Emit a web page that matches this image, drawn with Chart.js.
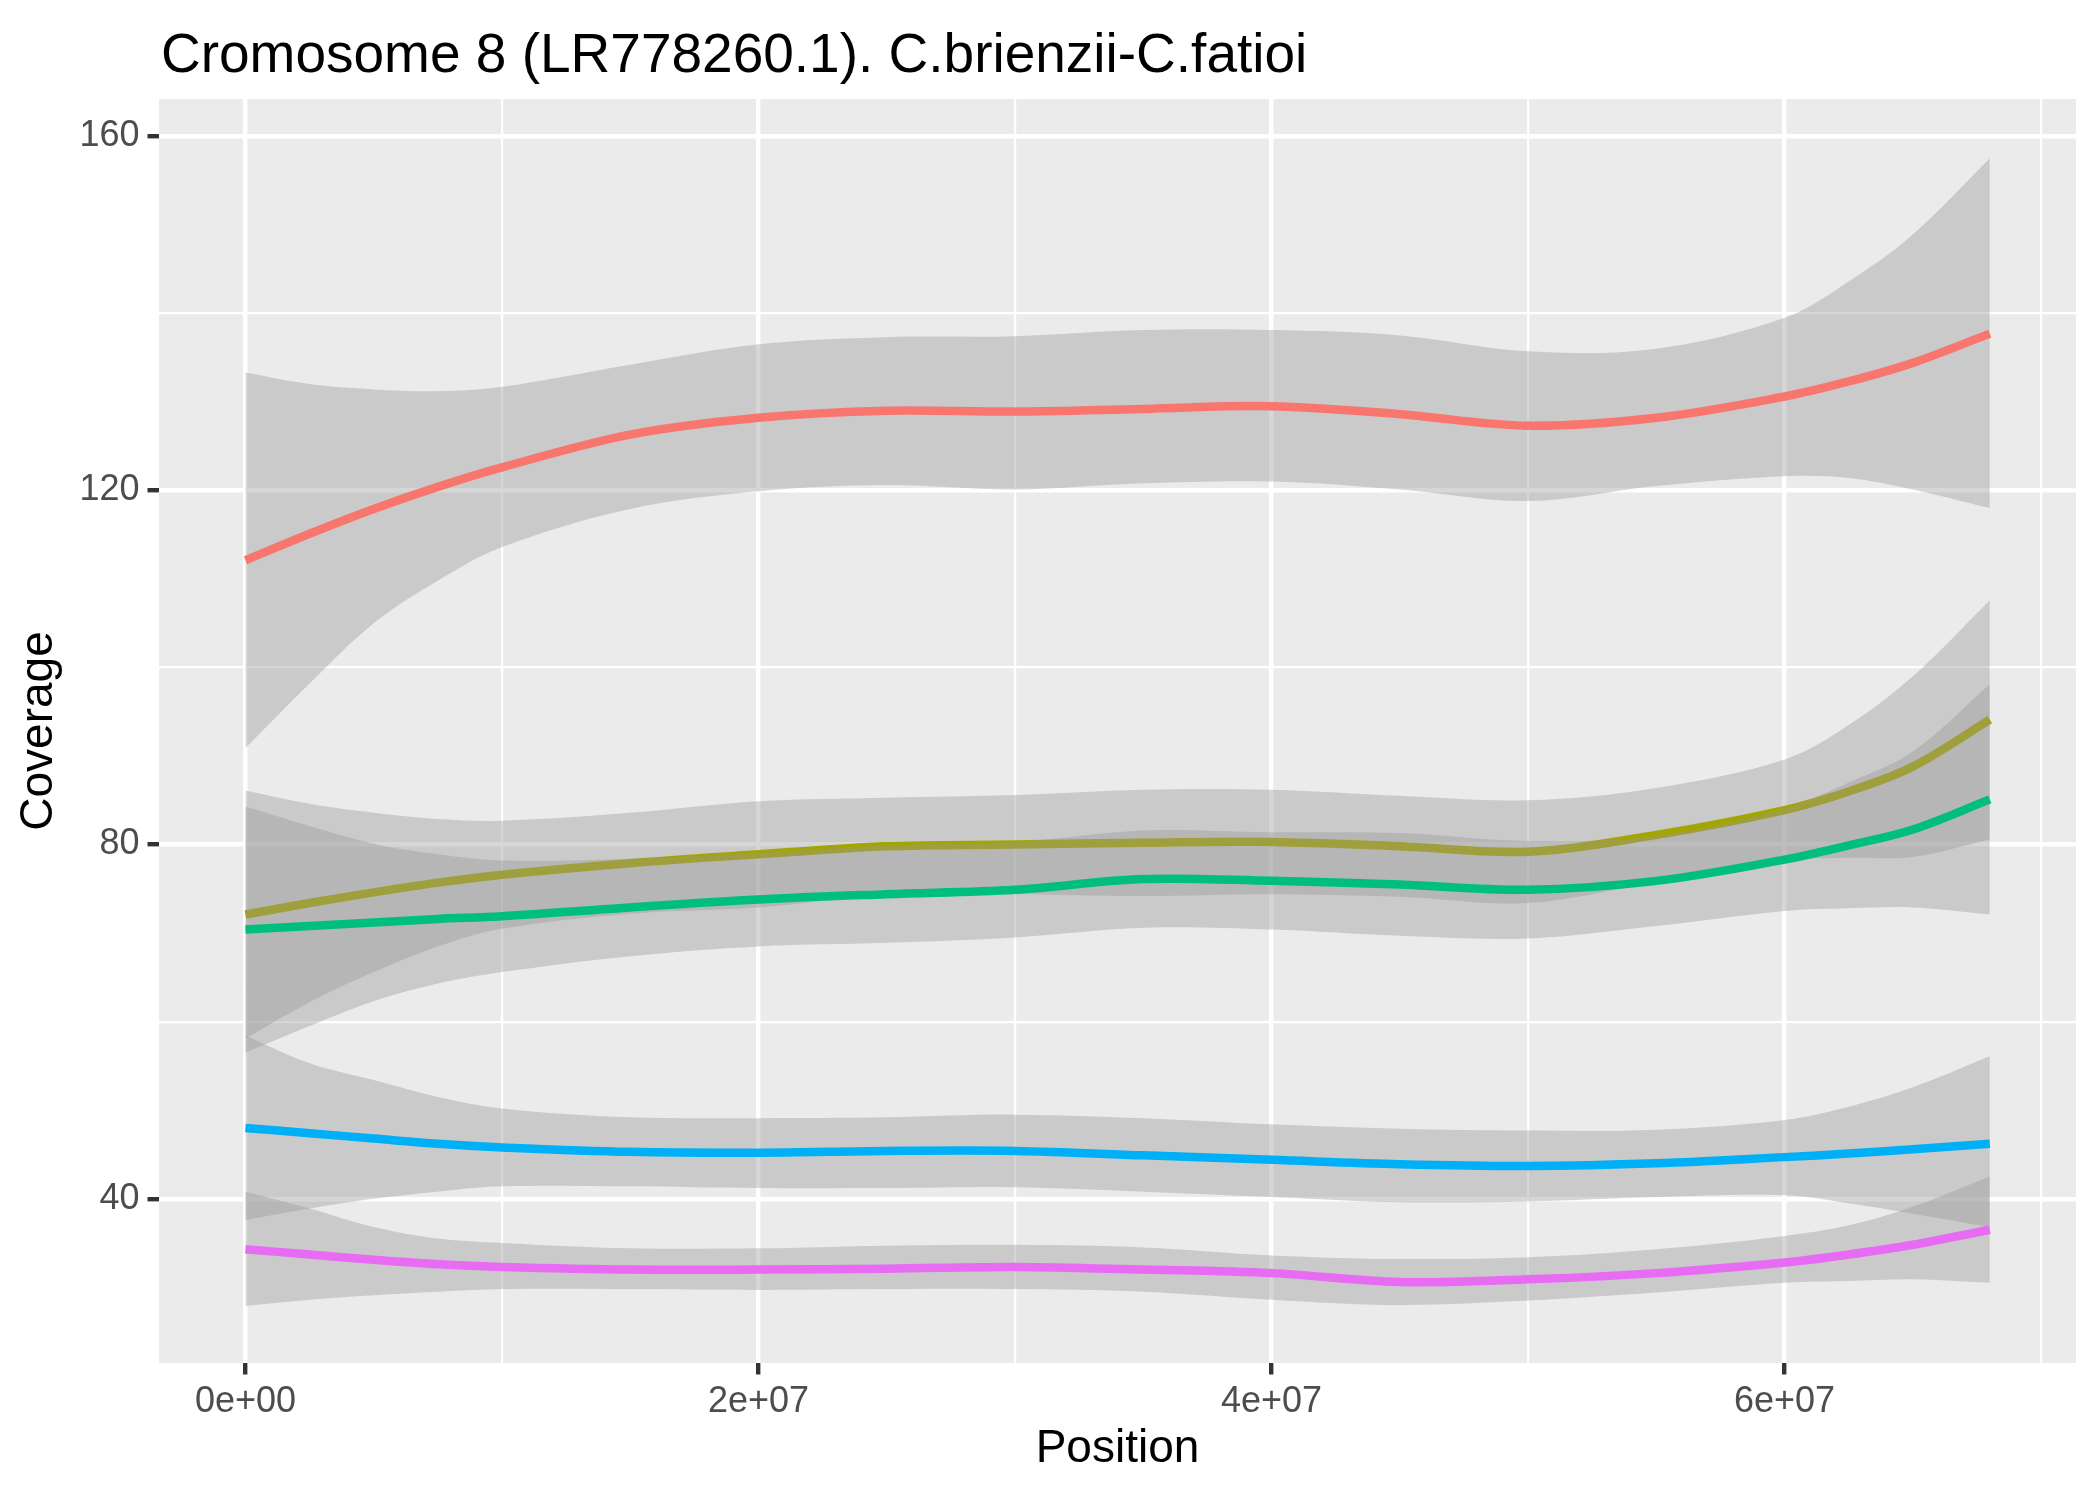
<!DOCTYPE html>
<html>
<head>
<meta charset="utf-8">
<script src="https://cdn.jsdelivr.net/npm/chart.js@4"></script>
<style>
  html, body { margin: 0; padding: 0; background: #ffffff; }
  #wrap { width: 2100px; height: 1499px; }
</style>
</head>
<body>
<div id="wrap"><canvas id="covChart" width="2100" height="1499"></canvas></div>
<script>
// COVERAGE SMOOTH CHART

const chartTitle = 'Cromosome 8 (LR778260.1). C.brienzii-C.fatioi';

// positions along the chromosome (bp)
const positions = [0, 2.5e6, 5e6, 7.5e6, 1e7, 1.5e7, 2e7, 2.5e7, 3e7, 3.5e7, 4e7, 4.5e7, 5e7, 5.5e7, 6e7, 6.25e7, 6.5e7, 6.8e7];

// group 1 (red)
const redFit   = [112.1, 115.1, 117.9, 120.4, 122.6, 126.3, 128.2, 129.0, 128.9, 129.2, 129.5, 128.6, 127.3, 128.2, 130.6, 132.3, 134.4, 137.7];
const redUpper = [133.3, 132.0, 131.4, 131.2, 131.7, 134.2, 136.5, 137.3, 137.4, 138.1, 138.1, 137.5, 135.7, 136.0, 139.5, 143.6, 148.9, 157.5];
const redLower = [90.9, 98.2, 105.0, 109.8, 113.6, 117.9, 119.9, 120.6, 120.1, 120.8, 121.0, 120.1, 118.8, 120.5, 121.6, 121.4, 120.1, 118.0];

// group 2 (olive)
const oliveFit   = [72.1, 73.4, 74.6, 75.7, 76.6, 77.9, 78.9, 79.8, 80.0, 80.2, 80.3, 79.8, 79.2, 81.1, 83.9, 86.0, 88.8, 94.1];
const oliveUpper = [86.1, 84.6, 83.6, 82.9, 82.7, 83.6, 84.9, 85.3, 85.6, 86.2, 86.2, 85.5, 85.0, 86.4, 89.6, 93.5, 99.0, 107.6];
const oliveLower = [58.1, 62.2, 65.6, 68.5, 70.5, 72.2, 72.9, 74.3, 74.4, 74.2, 74.4, 74.1, 73.4, 75.8, 78.2, 78.5, 78.6, 80.6];

// group 3 (green)
const greenFit   = [70.4, 70.8, 71.2, 71.6, 71.9, 72.9, 73.8, 74.4, 74.9, 76.1, 75.9, 75.5, 74.9, 75.9, 78.3, 79.9, 81.7, 85.1];
const greenUpper = [84.3, 82.1, 80.1, 78.9, 78.2, 78.4, 79.1, 79.9, 80.3, 81.6, 81.4, 81.3, 80.4, 81.0, 84.1, 87.0, 90.5, 98.1];
const greenLower = [56.5, 59.5, 62.3, 64.3, 65.6, 67.4, 68.5, 68.9, 69.5, 70.6, 70.4, 69.7, 69.4, 70.8, 72.5, 72.8, 72.9, 72.1];

// group 4 (blue)
const blueFit   = [48.0, 47.4, 46.8, 46.2, 45.8, 45.3, 45.2, 45.4, 45.4, 44.9, 44.4, 43.9, 43.7, 44.0, 44.7, 45.1, 45.6, 46.2];
const blueUpper = [58.4, 55.3, 53.4, 51.5, 50.2, 49.2, 49.1, 49.2, 49.5, 49.1, 48.4, 47.9, 47.7, 47.8, 48.9, 50.4, 52.6, 56.1];
const blueLower = [37.6, 38.9, 40.0, 40.8, 41.4, 41.4, 41.2, 41.2, 41.3, 40.8, 40.2, 39.6, 39.7, 40.2, 40.4, 39.5, 38.3, 36.8];

// group 5 (magenta)
const pinkFit   = [34.3, 33.7, 33.1, 32.6, 32.3, 32.0, 32.0, 32.1, 32.3, 32.0, 31.6, 30.6, 30.9, 31.6, 32.8, 33.7, 34.8, 36.5];
const pinkUpper = [40.8, 38.9, 36.8, 35.5, 35.0, 34.4, 34.4, 34.7, 34.8, 34.5, 33.6, 33.2, 33.4, 34.3, 35.8, 37.0, 39.1, 42.5];
const pinkLower = [27.9, 28.6, 29.1, 29.5, 29.8, 29.8, 29.7, 29.8, 29.8, 29.5, 28.6, 28.0, 28.5, 29.4, 30.5, 30.7, 30.9, 30.5];

const groups = [
  { color: '#F8766D', fit: redFit, upper: redUpper, lower: redLower },
  { color: '#A3A500', fit: oliveFit, upper: oliveUpper, lower: oliveLower },
  { color: '#00BF7D', fit: greenFit, upper: greenUpper, lower: greenLower },
  { color: '#00B0F6', fit: blueFit, upper: blueUpper, lower: blueLower },
  { color: '#E76BF3', fit: pinkFit, upper: pinkUpper, lower: pinkLower }
];

// grid positions (major + minor) and the labelled ones
const xGrid = [0, 1e7, 2e7, 3e7, 4e7, 5e7, 6e7, 7e7];
const yGrid = [40, 60, 80, 100, 120, 140, 160];
const xTicksMajor = [0, 2e7, 4e7, 6e7];
const yTicksMajor = [40, 80, 120, 160];

const toPoints = (arr) => positions.map((x, i) => ({ x: x, y: arr[i] }));

// ggplot draws ribbon1, line1, ribbon2, line2 ... so later groups sit on top
const buildDatasets = () => {
  const sets = [];
  let seq = 0;
  groups.forEach((g, gi) => {
    const upperIdx = gi * 3;
    sets.push({
      data: toPoints(g.upper),
      borderWidth: 0,
      pointRadius: 0,
      fill: { target: upperIdx + 1 },
      backgroundColor: 'rgba(153,153,153,0.4)',
      order: 100 - seq++
    });
    sets.push({
      data: toPoints(g.lower),
      borderWidth: 0,
      pointRadius: 0,
      fill: false,
      order: 100 - seq++
    });
    sets.push({
      data: toPoints(g.fit),
      borderColor: g.color,
      borderWidth: 8.5,
      pointRadius: 0,
      fill: false,
      borderCapStyle: 'butt',
      order: 100 - seq++
    });
  });
  return sets;
};

const panelBg = {
  id: 'panelBg',
  beforeDraw: (chart) => {
    const { ctx, chartArea } = chart;
    ctx.save();
    ctx.fillStyle = '#EBEBEB';
    ctx.fillRect(chartArea.left, chartArea.top, chartArea.right - chartArea.left, chartArea.bottom - chartArea.top);
    ctx.restore();
  },
  afterDraw: (chart) => {
    const { ctx } = chart;
    ctx.save();
    ctx.fillStyle = '#000000';
    ctx.font = '55px "Liberation Sans", Arial, sans-serif';
    ctx.textBaseline = 'alphabetic';
    ctx.textAlign = 'left';
    ctx.fillText(chartTitle, 161, 72);
    ctx.restore();
  }
};

const fmtX = (v) => v === 0 ? '0e+00' : (v / 1e7) + 'e+07';

const renderCoverageChart = () => {
  return new Chart(document.getElementById('covChart'), {
    type: 'line',
    data: { datasets: buildDatasets() },
    plugins: [panelBg],
    options: {
      responsive: false,
      animation: false,
      devicePixelRatio: 1,
      layout: { padding: { left: 0, top: 99, right: 24, bottom: 0 } },
      elements: { line: { tension: 0.35 } },
      plugins: {
        legend: { display: false },
        tooltip: { enabled: false },
        filler: { propagate: false }
      },
      scales: {
        x: {
          type: 'linear',
          min: -3.37e6,
          max: 7.136e7,
          afterBuildTicks: (scale) => { scale.ticks = xGrid.map(v => ({ value: v })); },
          afterFit: (scale) => { scale.height = 136; },
          border: { display: false },
          grid: {
            color: '#FFFFFF',
            lineWidth: (c) => xTicksMajor.includes(c.tick.value) ? 4.4 : 2.2,
            tickColor: (c) => xTicksMajor.includes(c.tick.value) ? '#333333' : 'rgba(0,0,0,0)',
            tickLength: 11.5,
            tickWidth: 4.4
          },
          ticks: {
            autoSkip: false,
            maxRotation: 0,
            padding: 6,
            color: '#4D4D4D',
            font: { family: '"Liberation Sans", Arial, sans-serif', size: 36 },
            callback: (v) => xTicksMajor.includes(v) ? fmtX(v) : ''
          },
          title: {
            display: true,
            text: 'Position',
            color: '#000000',
            font: { family: '"Liberation Sans", Arial, sans-serif', size: 46 },
            padding: { top: 0, bottom: 22 }
          }
        },
        y: {
          type: 'linear',
          min: 21.45,
          max: 164.2,
          afterBuildTicks: (scale) => { scale.ticks = yGrid.map(v => ({ value: v })); },
          afterFit: (scale) => { scale.width = 159; },
          border: { display: false },
          grid: {
            color: '#FFFFFF',
            lineWidth: (c) => yTicksMajor.includes(c.tick.value) ? 4.4 : 2.2,
            tickColor: (c) => yTicksMajor.includes(c.tick.value) ? '#333333' : 'rgba(0,0,0,0)',
            tickLength: 11.5,
            tickWidth: 4.4
          },
          ticks: {
            autoSkip: false,
            padding: 8,
            color: '#4D4D4D',
            font: { family: '"Liberation Sans", Arial, sans-serif', size: 36 },
            callback: (v) => yTicksMajor.includes(v) ? String(v) : ''
          },
          title: {
            display: true,
            text: 'Coverage',
            color: '#000000',
            font: { family: '"Liberation Sans", Arial, sans-serif', size: 46 },
            padding: { top: 12, bottom: 0 }
          }
        }
      }
    }
  });
};

renderCoverageChart();
</script>
</body>
</html>
